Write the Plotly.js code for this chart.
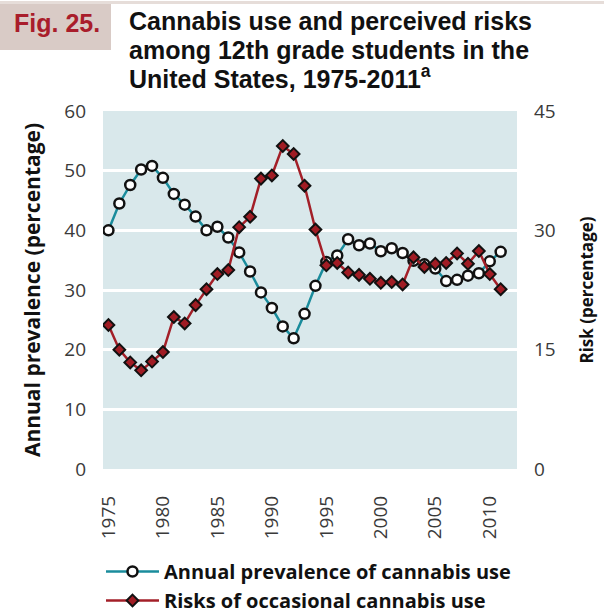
<!DOCTYPE html>
<html>
<head>
<meta charset="utf-8">
<script src="https://cdn.plot.ly/plotly-3.0.1.min.js"></script>
<style>
html,body{margin:0;padding:0;background:#fff;}
#chart{width:604px;height:613px;}
</style>
</head>
<body>
<div id="chart"></div>
<script>
const years = [1975,1976,1977,1978,1979,1980,1981,1982,1983,1984,1985,1986,1987,1988,1989,1990,1991,1992,1993,1994,1995,1996,1997,1998,1999,2000,2001,2002,2003,2004,2005,2006,2007,2008,2009,2010,2011];
const annualPrevalence = [40.0,44.5,47.6,50.2,50.8,48.8,46.1,44.3,42.3,40.0,40.6,38.8,36.3,33.1,29.6,27.0,23.9,21.9,26.0,30.7,34.7,35.8,38.5,37.5,37.8,36.5,37.0,36.2,34.9,34.3,33.6,31.5,31.7,32.4,32.8,34.8,36.4];
const riskOccasional = [18.1,15.0,13.4,12.4,13.5,14.7,19.1,18.3,20.6,22.6,24.5,25.0,30.4,31.7,36.5,36.9,40.6,39.6,35.6,30.1,25.6,25.9,24.7,24.4,23.9,23.4,23.5,23.2,26.6,25.4,25.8,25.9,27.1,25.8,27.4,24.5,22.6];
const xTickVals = [1975,1980,1985,1990,1995,2000,2005,2010];
const yTickVals = [0,10,20,30,40,50,60];
const y2TickVals = [0,15,30,45];
const seriesNames = ["Annual prevalence of cannabis use","Risks of occasional cannabis use"];
const titleLines = ["Cannabis use and perceived risks","among 12th grade students in the","United States, 1975-2011"];

// plot area geometry (px) used to place decorations in paper coords
const L = 103, R = 87, T = 111, B = 144, W = 604, H = 613;
const PW = W - L - R, PH = H - T - B;
const px = v => (v - L) / PW;
const py = v => (H - B - v) / PH;

const traces = [
  {
    x: years, y: annualPrevalence, name: seriesNames[0], type: 'scatter', mode: 'lines+markers',
    line: {color: '#1a8c9c', width: 2.5},
    marker: {symbol: 'circle', size: 10, color: '#ffffff', line: {color: '#111111', width: 2.5}},
    yaxis: 'y'
  },
  {
    x: years, y: riskOccasional, name: seriesNames[1], type: 'scatter', mode: 'lines+markers',
    line: {color: '#a31f28', width: 2.5},
    marker: {symbol: 'diamond', size: 9, color: '#a01c24', line: {color: '#111111', width: 2}},
    yaxis: 'y2'
  }
];

const tickFont = {family: '"Open Sans", sans-serif', size: 19, color: '#3a3a3a'};

const layout = {
  width: W, height: H,
  margin: {l: L, r: R, t: T, b: B, pad: 0, autoexpand: false},
  paper_bgcolor: '#ffffff',
  plot_bgcolor: '#d9e8eb',
  showlegend: true,
  legend: {
    x: px(101), y: py(552), xanchor: 'left', yanchor: 'top',
    font: {family: '"Open Sans", sans-serif', size: 20, color: '#111111', weight: 'bold'},
    bgcolor: 'rgba(0,0,0,0)', itemwidth: 53, tracegroupgap: 0,
    traceorder: 'normal'
  },
  xaxis: {
    range: [1974.5, 2012.5], tickvals: xTickVals, ticktext: xTickVals.map(String),
    tickangle: -90, tickfont: tickFont, showgrid: false, zeroline: false,
    showline: false, ticks: '', ticklabelstandoff: 22, automargin: false, fixedrange: true
  },
  yaxis: {
    range: [0, 60], tickvals: yTickVals, tickfont: tickFont,
    showgrid: true, gridcolor: '#ffffff', gridwidth: 3, zeroline: false, showline: false,
    ticks: '', ticklabelstandoff: 16, automargin: false,
    title: {text: 'Annual prevalence (percentage)', font: {family: '"Open Sans", sans-serif', size: 21, color: '#111111', weight: 'bold'}, standoff: 17}
  },
  yaxis2: {
    range: [0, 45], tickvals: y2TickVals, tickfont: tickFont, overlaying: 'y', side: 'right',
    showgrid: false, zeroline: false, showline: false, ticks: '', ticklabelstandoff: 16, automargin: false,
    title: {text: 'Risk (percentage)', font: {family: '"Open Sans", sans-serif', size: 17, color: '#111111', weight: 'bold'}, standoff: 26}
  },
  shapes: [
    {type: 'rect', xref: 'paper', yref: 'paper', x0: px(0), x1: px(604), y0: py(4), y1: py(1), fillcolor: '#e6ddd9', line: {width: 0}, layer: 'below'},
    {type: 'rect', xref: 'paper', yref: 'paper', x0: px(0), x1: px(111), y0: py(50), y1: py(4), fillcolor: '#d9cbc6', line: {width: 0}, layer: 'below'}
  ],
  annotations: [
    {xref: 'paper', yref: 'paper', x: px(12), y: py(23), xanchor: 'left', yanchor: 'middle', showarrow: false,
     text: '<b>Fig. 25.</b>', font: {family: '"Liberation Sans", Arial, sans-serif', size: 25, color: '#a91d2b'}},
    {xref: 'paper', yref: 'paper', x: px(127), y: py(21), xanchor: 'left', yanchor: 'middle', showarrow: false,
     text: '<b>' + titleLines[0] + '</b>', font: {family: '"Liberation Sans", Arial, sans-serif', size: 25, color: '#111111'}},
    {xref: 'paper', yref: 'paper', x: px(127), y: py(49.5), xanchor: 'left', yanchor: 'middle', showarrow: false,
     text: '<b>' + titleLines[1] + '</b>', font: {family: '"Liberation Sans", Arial, sans-serif', size: 25, color: '#111111'}},
    {xref: 'paper', yref: 'paper', x: px(127), y: py(77), xanchor: 'left', yanchor: 'middle', showarrow: false,
     text: '<b>' + titleLines[2] + '<sup>a</sup></b>', font: {family: '"Liberation Sans", Arial, sans-serif', size: 25, color: '#111111'}}
  ]
};

Plotly.newPlot('chart', traces, layout, {displayModeBar: false, staticPlot: true});
</script>
</body>
</html>
